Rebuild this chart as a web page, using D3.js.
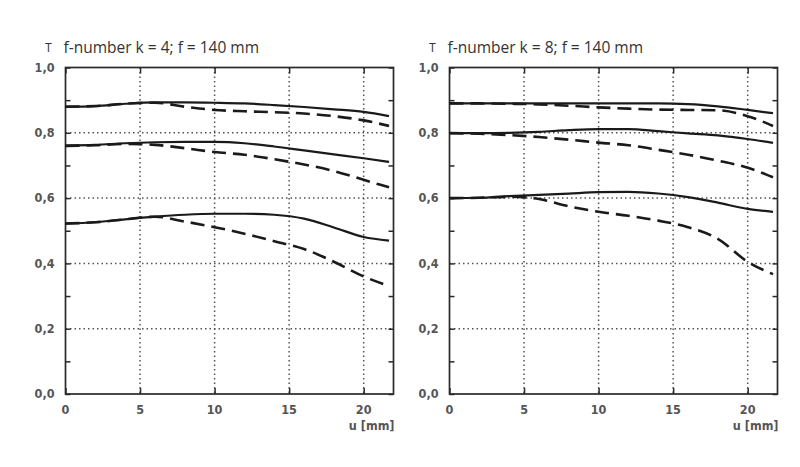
<!DOCTYPE html>
<html>
<head>
<meta charset="utf-8">
<script src="https://cdn.jsdelivr.net/npm/d3@7"></script>
<style>
  body { margin: 0; background: #fff; }
  svg { display: block; }
</style>
</head>
<body>
<div id="chart"></div>
<script>
// sample positions along the image (mm)
var uSamples = [0, 2, 4, 6, 8, 10, 12, 14, 16, 18, 20, 21.7];

// k = 4 panel
var k4SolidTop = [0.880, 0.882, 0.889, 0.893, 0.893, 0.892, 0.890, 0.885, 0.879, 0.872, 0.864, 0.851];
var k4DashTop  = [0.880, 0.882, 0.889, 0.892, 0.880, 0.870, 0.866, 0.863, 0.859, 0.851, 0.838, 0.821];
var k4SolidMid = [0.761, 0.763, 0.768, 0.771, 0.772, 0.772, 0.768, 0.758, 0.746, 0.734, 0.722, 0.711];
var k4DashMid  = [0.760, 0.762, 0.766, 0.763, 0.753, 0.741, 0.733, 0.719, 0.703, 0.683, 0.656, 0.633];
var k4SolidLow = [0.522, 0.526, 0.535, 0.543, 0.549, 0.552, 0.552, 0.549, 0.537, 0.510, 0.481, 0.470];
var k4DashLow  = [0.522, 0.526, 0.535, 0.543, 0.528, 0.511, 0.491, 0.468, 0.444, 0.405, 0.360, 0.331];

// k = 8 panel
var k8SolidTop = [0.890, 0.890, 0.890, 0.890, 0.890, 0.890, 0.890, 0.890, 0.888, 0.881, 0.870, 0.860];
var k8DashTop  = [0.890, 0.890, 0.889, 0.887, 0.883, 0.878, 0.874, 0.871, 0.870, 0.869, 0.851, 0.821];
var k8SolidMid = [0.799, 0.799, 0.800, 0.803, 0.808, 0.811, 0.811, 0.805, 0.798, 0.792, 0.781, 0.769];
var k8DashMid  = [0.799, 0.797, 0.793, 0.787, 0.779, 0.770, 0.762, 0.748, 0.733, 0.715, 0.693, 0.664];
var k8SolidLow = [0.600, 0.601, 0.606, 0.610, 0.614, 0.618, 0.619, 0.614, 0.603, 0.586, 0.567, 0.558];
var k8DashLow  = [0.600, 0.601, 0.604, 0.597, 0.575, 0.558, 0.546, 0.531, 0.511, 0.475, 0.405, 0.367];

var panelTitles = ["f-number k = 4; f = 140 mm", "f-number k = 8; f = 140 mm"];
var xTicks = [0, 5, 10, 15, 20];
var yTicks = [0, 0.2, 0.4, 0.6, 0.8, 1.0];
var yMinorTicks = [0.1, 0.3, 0.5, 0.7, 0.9];

var panels = [
  { title: panelTitles[0], left: 65.5,
    solid: [k4SolidTop, k4SolidMid, k4SolidLow], dashed: [k4DashTop, k4DashMid, k4DashLow] },
  { title: panelTitles[1], left: 449.5,
    solid: [k8SolidTop, k8SolidMid, k8SolidLow], dashed: [k8DashTop, k8DashMid, k8DashLow] }
];

var W = 800, H = 467;
var plotW = 328, plotTop = 67.5, plotBottom = 394;
var ink = "#2a2a2a";
var tickFont = "'DejaVu Sans Condensed', 'DejaVu Sans', sans-serif";

var svg = d3.select("#chart").append("svg")
    .attr("width", W)
    .attr("height", H);

panels.forEach(function (p) {
    var g = svg.append("g").attr("transform", "translate(" + p.left + ",0)");

    var x = d3.scaleLinear().domain([0, 22]).range([0, plotW]);
    var y = d3.scaleLinear().domain([0, 1]).range([plotBottom, plotTop]);

    // dotted grid
    g.append("g").selectAll("line")
        .data(yTicks.filter(function (d) { return d > 0 && d < 1; }))
        .join("line")
        .attr("x1", 0).attr("x2", plotW)
        .attr("y1", function (d) { return y(d); })
        .attr("y2", function (d) { return y(d); })
        .attr("stroke", "#555").attr("stroke-width", 1.5)
        .attr("stroke-dasharray", "1.5,3");

    g.append("g").selectAll("line")
        .data(xTicks.filter(function (d) { return d > 0; }))
        .join("line")
        .attr("x1", function (d) { return x(d); })
        .attr("x2", function (d) { return x(d); })
        .attr("y1", plotTop).attr("y2", plotBottom)
        .attr("stroke", "#555").attr("stroke-width", 1.5)
        .attr("stroke-dasharray", "1.5,3");

    // axes with inward ticks
    var yAxisL = d3.axisLeft(y).tickValues(yTicks.concat(yMinorTicks)).tickSize(-5).tickFormat("");
    var yAxisR = d3.axisRight(y).tickValues(yTicks.concat(yMinorTicks)).tickSize(-5).tickFormat("");
    var xAxisB = d3.axisBottom(x).tickValues(xTicks).tickSize(-6).tickFormat("");
    var xAxisT = d3.axisTop(x).tickValues(xTicks).tickSize(-6).tickFormat("");

    g.append("g").call(yAxisL);
    g.append("g").attr("transform", "translate(" + plotW + ",0)").call(yAxisR);
    g.append("g").attr("transform", "translate(0," + plotBottom + ")").call(xAxisB);
    g.append("g").attr("transform", "translate(0," + plotTop + ")").call(xAxisT);
    g.selectAll(".domain").remove();
    g.selectAll(".tick line").attr("stroke", ink).attr("stroke-width", 1.5);

    // frame
    g.append("rect")
        .attr("x", 0).attr("y", plotTop)
        .attr("width", plotW).attr("height", plotBottom - plotTop)
        .attr("fill", "none").attr("stroke", ink).attr("stroke-width", 1.7);

    // tick labels
    g.append("g").selectAll("text")
        .data(yTicks)
        .join("text")
        .attr("x", -11)
        .attr("y", function (d) { return y(d); })
        .attr("dy", "0.35em")
        .attr("text-anchor", "end")
        .attr("font-family", tickFont)
        .attr("font-size", 12.5)
        .attr("font-weight", "bold")
        .attr("fill", "#555")
        .text(function (d) { return d3.format(".1f")(d).replace(".", ","); });

    g.append("g").selectAll("text")
        .data(xTicks)
        .join("text")
        .attr("x", function (d) { return x(d); })
        .attr("y", plotBottom + 20)
        .attr("text-anchor", "middle")
        .attr("font-family", tickFont)
        .attr("font-size", 12.5)
        .attr("font-weight", "bold")
        .attr("fill", "#555")
        .text(function (d) { return d; });

    g.append("text")
        .attr("x", plotW + 1)
        .attr("y", plotBottom + 36)
        .attr("text-anchor", "end")
        .attr("font-family", tickFont)
        .attr("font-size", 12.5)
        .attr("font-weight", "bold")
        .attr("fill", "#555")
        .text("u [mm]");

    // heading
    g.append("text")
        .attr("x", -17)
        .attr("y", 52)
        .attr("text-anchor", "middle")
        .attr("font-family", tickFont)
        .attr("font-size", 11.5)
        .attr("fill", "#333")
        .text("T");

    g.append("text")
        .attr("x", -2)
        .attr("y", 53)
        .attr("font-family", "'Open Sans', sans-serif")
        .attr("font-size", 15.5)
        .attr("fill", "#333")
        .text(p.title);

    // curves
    var line = d3.line()
        .x(function (d, i) { return x(uSamples[i]); })
        .y(function (d) { return y(d); })
        .curve(d3.curveMonotoneX);

    g.append("g").selectAll("path")
        .data(p.dashed)
        .join("path")
        .attr("d", line)
        .attr("fill", "none")
        .attr("stroke", "#1a1a1a")
        .attr("stroke-width", 2.6)
        .attr("stroke-dasharray", "14,7");

    g.append("g").selectAll("path")
        .data(p.solid)
        .join("path")
        .attr("d", line)
        .attr("fill", "none")
        .attr("stroke", "#1a1a1a")
        .attr("stroke-width", 2.2);
});
</script>
</body>
</html>
